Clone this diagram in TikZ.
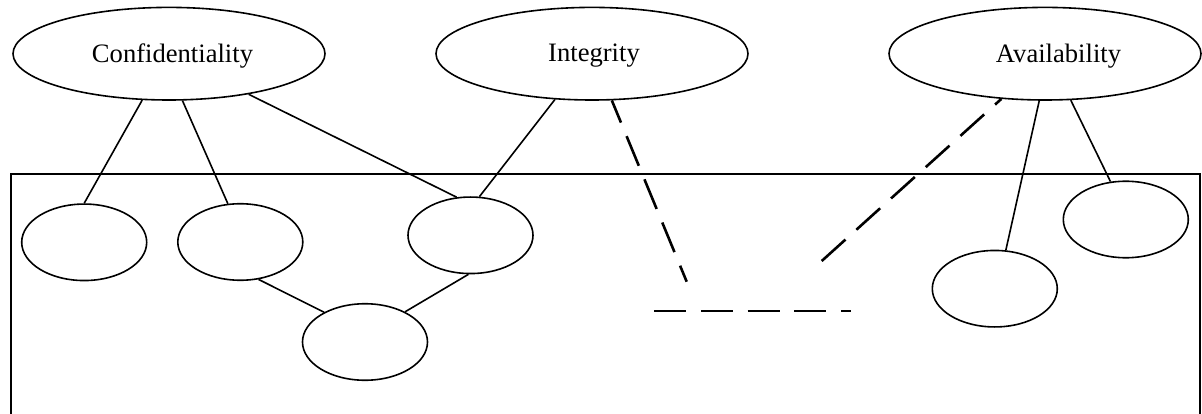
\documentclass[tikz,border=0pt]{standalone}
\usepackage{fontspec}
\setmainfont{Liberation Serif}
\usetikzlibrary{shapes.geometric}
\begin{document}
\begin{tikzpicture}[x=1pt,y=-1pt,
  topell/.style={draw, ellipse, line width=1.6pt, inner sep=0pt, minimum width=312pt, minimum height=92.6pt},
  subell/.style={draw, ellipse, line width=1.6pt, inner sep=0pt, minimum width=125pt, minimum height=76.5pt},
  lbl/.style={font=\fontsize{26.6}{30}\selectfont, inner sep=0pt, anchor=base},
  link/.style={line width=1.6pt},
  dashlink/.style={line width=2.6pt, dash pattern=on 32pt off 14.7pt}]
\useasboundingbox (0,0) rectangle (1202,414);
% frame
\coordinate (fbl) at (11,414);
\coordinate (ftl) at (11,174);
\coordinate (ftr) at (1200,174);
\coordinate (fbr) at (1200,414);
\draw[link] (fbl) -- (ftl) -- (ftr) -- (fbr);
% top ellipses
\node[topell] (conf) at (169,53.7) {};
\node[topell] (integ) at (592,53.7) {};
\node[topell] (avail) at (1045,53.7) {};
\node[lbl] (conft) at (172.5,63) {Confidentiality};
\node[lbl] (integt) at (594,62) {Integrity};
\node[lbl] (availt) at (1058.5,63) {Availability};
% lower ellipses
\node[subell] (e1) at (84.2,242.3) {};
\node[subell] (e2) at (240.3,242) {};
\node[subell] (e3) at (470.5,235.3) {};
\node[subell] (e4) at (365,342) {};
\node[subell] (e5) at (994.8,288.7) {};
\node[subell] (e6) at (1125.8,219.5) {};
% solid links
\draw[link] (conf.240) -- (e1.90);
\draw[link] (conf.286) -- (e2.108);
\draw[link] (conf.333) -- (e3.110);
\draw[link] (integ.231) -- (e3.77);
\draw[link] (e2.296) -- (e4.144);
\draw[link] (e3.267) -- (e4.37);
\draw[link] (avail.263) -- (e5.74);
\draw[link] (avail.299) -- (e6.112);
% dashed links
\coordinate (d1) at (686.7,281.7);
\coordinate (d2a) at (654.3,311);
\coordinate (d2b) at (850.7,311);
\coordinate (d3) at (821.7,261);
\draw[dashlink, dash phase=8pt] (integ.293) -- (d1);
\draw[dashlink] (d2a) -- (d2b);
\draw[dashlink] (d3) -- (avail.226);
\end{tikzpicture}
\end{document}
